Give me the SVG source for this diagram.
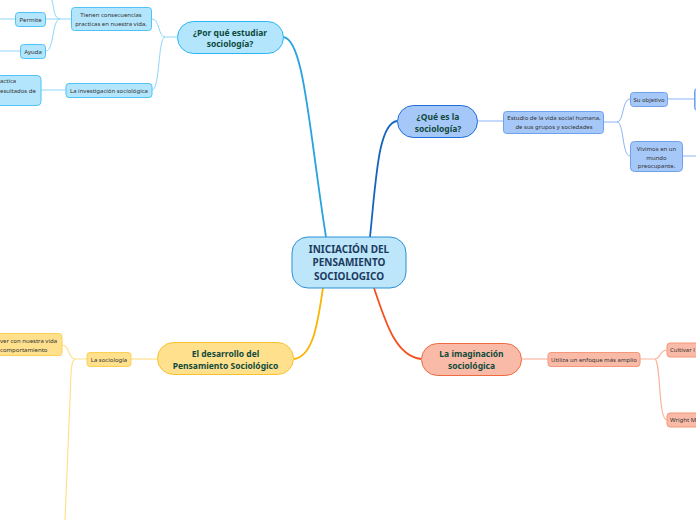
<svg xmlns="http://www.w3.org/2000/svg" width="696" height="520" viewBox="0 0 696 520">
<style>
text{font-family:"Noto Sans","Open Sans","DejaVu Sans",sans-serif;text-anchor:middle}
.main{font-size:8.5px;font-weight:bold;fill:#0f4a3c}
.ctr{font-size:10px;font-weight:bold;fill:#1c3b5e}
.sub{font-size:6px;fill:#333}
.st{text-anchor:start}
.c{fill:none}
.b1n{fill:#b3e5fc;stroke:#4fc3f7}
.b2n{fill:#a6c8f8;stroke:#6fa0ec}
.on{fill:#ffe08c;stroke:#fdd055}
.rn{fill:#f9bba7;stroke:#f59778}
.b1l{stroke:#8fd6fa;stroke-width:1}
.b2l{stroke:#8ab4f8;stroke-width:1}
.ol{stroke:#ffe08a;stroke-width:1.2}
.rl{stroke:#f9b49c;stroke-width:1.2}
</style>
<g id="connectors" class="c">
<path d="M283,37 C304,38 309,130 326,237" stroke="#29a3e0" stroke-width="1.8"/>
<path d="M370,237 C376,180 378,124 397,121" stroke="#1565c0" stroke-width="1.8"/>
<path d="M323,288 C318,320 314,356 294,359" stroke="#fbb400" stroke-width="1.8"/>
<path d="M374,288 C385,320 395,356 421,359" stroke="#f4511e" stroke-width="1.8"/>
<path class="b1l" d="M177,37 L165,37 C158,37 160,19 152,19"/>
<path class="b1l" d="M165,37 C158,37 160,90 152,90"/>
<path class="b1l" d="M71,19 L60,19 L46,19"/>
<path class="b1l" d="M60,19 C54,19 54,8 52,0"/>
<path class="b1l" d="M60,19 C52,19 54,51 46,51"/>
<path class="b1l" d="M15,19 L0,19"/>
<path class="b1l" d="M20,51 L0,51"/>
<path class="b1l" d="M66,90 L41,90"/>
<path class="b2l" d="M478,121 L503,121"/>
<path class="b2l" d="M604,122 L617,122 C624,122 622,99 630,99"/>
<path class="b2l" d="M617,122 C624,122 622,156 630,156"/>
<path class="b2l" d="M668,99 L694,99"/>
<path class="b2l" d="M683,156 L696,156"/>
<path class="ol" d="M157,359 L131,359"/>
<path class="ol" d="M87,359 L75,359 C68,359 70,345 62,345"/>
<path class="ol" d="M75,359 C70,362 71,380 70,400 L65,520"/>
<path class="rl" d="M522,359 L548,359"/>
<path class="rl" d="M640,359 L655,359 C661,359 659,350 667,350"/>
<path class="rl" d="M655,359 C661,362 658,420 667,420"/>
</g>
<g id="center">
<rect x="292" y="237" width="114" height="51" rx="16" fill="#bde6fb" stroke="#2b8fd6" stroke-width="1"/>
<text class="ctr" x="349" y="253">INICIACIÓN DEL</text>
<text class="ctr" x="349" y="266">PENSAMIENTO</text>
<text class="ctr" x="349" y="280">SOCIOLOGICO</text>
</g>
<g id="por-que">
<rect x="177.5" y="21.5" width="106" height="32" rx="16" fill="#b3e5fc" stroke="#29b6f6"/>
<text class="main" x="230" y="35.5">¿Por qué estudiar</text>
<text class="main" x="230" y="47">sociología?</text>
</g>
<g id="tienen">
<rect class="b1n" x="71.5" y="7.5" width="80" height="23" rx="3"/>
<text class="sub" x="111" y="17">Tienen consecuencias</text>
<text class="sub" x="111" y="26">practicas en nuestra vida.</text>
</g>
<g id="investigacion">
<rect class="b1n" x="66" y="83.5" width="86" height="14" rx="3"/>
<text class="sub" x="109" y="92.5">La investigación sociológica</text>
</g>
<g id="permite">
<rect class="b1n" x="15.5" y="12.5" width="30" height="14" rx="3"/>
<text class="sub" x="30.5" y="21.5">Permite</text>
</g>
<g id="ayuda">
<rect class="b1n" x="20.5" y="44.5" width="25" height="14" rx="3"/>
<text class="sub" x="33" y="53.5">Ayuda</text>
</g>
<g id="practica">
<rect class="b1n" x="-20" y="75.5" width="61" height="30" rx="4"/>
<text class="sub st" x="0" y="83">actica</text>
<text class="sub st" x="0" y="93">esultados de</text>
</g>
<g id="que-es">
<rect x="397.5" y="105.5" width="80" height="32" rx="16" fill="#a6c8f8" stroke="#1e6fd9"/>
<text class="main" x="438" y="120">¿Qué es la</text>
<text class="main" x="438" y="131.5">sociología?</text>
</g>
<g id="estudio">
<rect class="b2n" x="503.5" y="111.5" width="100" height="22" rx="3"/>
<text class="sub" x="554" y="119.5">Estudio de la vida social humana,</text>
<text class="sub" x="554" y="129">de sus grupos y sociedades</text>
</g>
<g id="objetivo">
<rect class="b2n" x="630.5" y="92.5" width="37" height="14" rx="3"/>
<text class="sub" x="649" y="101.5">Su objetivo</text>
</g>
<g id="vivimos">
<rect class="b2n" x="630.5" y="141.5" width="52" height="30" rx="4"/>
<text class="sub" x="656.5" y="151">Vivimos en un</text>
<text class="sub" x="656.5" y="159.5">mundo</text>
<text class="sub" x="656.5" y="168">preocupante.</text>
</g>
<g id="objetivo-hijo">
<rect class="b2n" x="694.5" y="88.5" width="20" height="22" rx="3"/>
</g>
<g id="desarrollo">
<rect x="157.5" y="342.5" width="136" height="32" rx="16" fill="#ffe08c" stroke="#fbc02d"/>
<text class="main" x="225.5" y="357">El desarrollo del</text>
<text class="main" x="225.5" y="368.5">Pensamiento Sociológico</text>
</g>
<g id="la-sociologia">
<rect class="on" x="87" y="352.5" width="44" height="14" rx="3"/>
<text class="sub" x="109" y="361.5">La sociología</text>
</g>
<g id="ver-con">
<rect class="on" x="-20" y="333.5" width="82" height="22" rx="3"/>
<text class="sub st" x="0" y="343">ver con nuestra vida</text>
<text class="sub st" x="0" y="351.5">comportamiento</text>
</g>
<g id="imaginacion">
<rect x="421.5" y="343.5" width="100" height="32" rx="16" fill="#f9bba7" stroke="#f0693f"/>
<text class="main" x="471.5" y="357">La imaginación</text>
<text class="main" x="471.5" y="368.5">sociológica</text>
</g>
<g id="utiliza">
<rect class="rn" x="548" y="352.5" width="92" height="14" rx="3"/>
<text class="sub" x="594" y="361.5">Utiliza un enfoque más amplio</text>
</g>
<g id="cultivar">
<rect class="rn" x="667" y="343" width="40" height="14" rx="3"/>
<text class="sub st" x="670" y="352">Cultivar l</text>
</g>
<g id="wright">
<rect class="rn" x="667" y="413" width="40" height="14" rx="3"/>
<text class="sub st" x="670" y="422">Wright M</text>
</g>
</svg>
